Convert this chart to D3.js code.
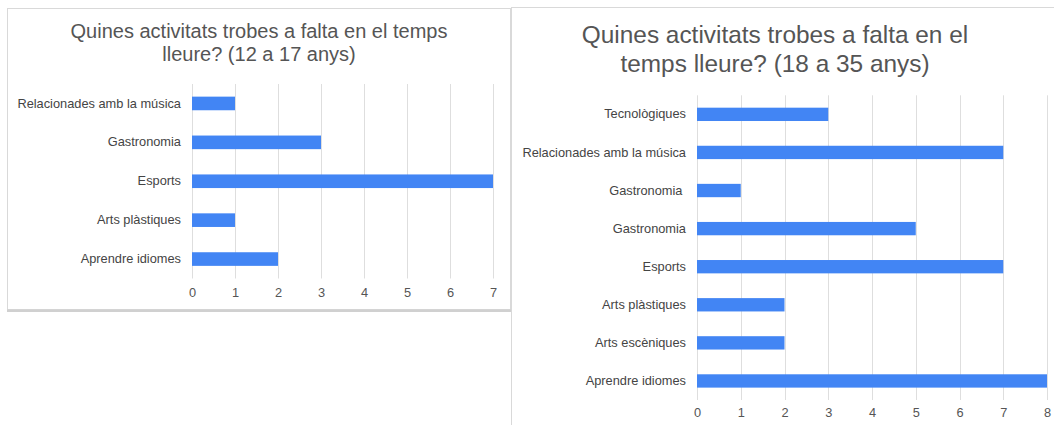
<!DOCTYPE html>
<html>
<head>
<meta charset="utf-8">
<script src="https://cdn.jsdelivr.net/npm/d3@7"></script>
<style>
  body { margin: 0; background: #fff; }
  text { font-family: "Liberation Sans", Arial, sans-serif; }
</style>
</head>
<body>
<div id="chart"></div>
<script>
// data
var cats_young = ["Relacionades amb la música", "Gastronomia", "Esports", "Arts plàstiques", "Aprendre idiomes"];
var vals_young = [1, 3, 7, 1, 2];
var ticks_young = [0, 1, 2, 3, 4, 5, 6, 7];
var title_young = ["Quines activitats trobes a falta en el temps", "lleure? (12 a 17 anys)"];

var cats_adult = ["Tecnològiques", "Relacionades amb la música", "Gastronomia ", "Gastronomia", "Esports", "Arts plàstiques", "Arts escèniques", "Aprendre idiomes"];
var vals_adult = [3, 7, 1, 5, 7, 2, 2, 8];
var ticks_adult = [0, 1, 2, 3, 4, 5, 6, 7, 8];
var title_adult = ["Quines activitats trobes a falta en el", "temps lleure? (18 a 35 anys)"];

var w = 1054, h = 425;

var svg = d3.select("#chart")
  .append("svg")
  .attr("width", w)
  .attr("height", h);

// panel frames
svg.append("rect")
  .attr("x", 511.5).attr("y", 7.5)
  .attr("width", 600).attr("height", 450)
  .style("fill", "#fff")
  .style("stroke", "#d9d9d9");

svg.append("rect")
  .attr("x", 7.5).attr("y", 8.5)
  .attr("width", 503).attr("height", 301)
  .style("fill", "#fff")
  .style("stroke", "#d9d9d9");

svg.append("rect")
  .attr("x", 7).attr("y", 309.5)
  .attr("width", 504).attr("height", 2.5)
  .style("fill", "#d0d0d0");

function drawChart(opt) {
  var g = svg.append("g");

  var xScale = d3.scaleLinear()
    .domain([0, opt.ticks[opt.ticks.length - 1]])
    .range([opt.left, opt.right]);

  var yScale = d3.scaleBand()
    .domain(d3.range(opt.cats.length))
    .range([opt.top, opt.bottom])
    .paddingInner(0.65)
    .paddingOuter(0.325);

  // title
  g.append("text")
    .attr("text-anchor", "middle")
    .style("font-size", opt.titleSize + "px")
    .style("fill", "#555")
    .selectAll("tspan")
    .data(opt.title)
    .enter()
    .append("tspan")
    .attr("x", opt.titleX)
    .attr("y", function(d, i) { return opt.titleY + i * opt.titleGap; })
    .text(function(d) { return d; });

  // gridlines
  g.selectAll(".grid")
    .data(opt.ticks)
    .enter()
    .append("line")
    .attr("x1", function(d) { return Math.round(xScale(d)) + 0.5; })
    .attr("x2", function(d) { return Math.round(xScale(d)) + 0.5; })
    .attr("y1", opt.top)
    .attr("y2", opt.bottom)
    .style("stroke", "#dedede")
    .style("stroke-width", 1);

  // bars
  g.selectAll(".bar")
    .data(opt.vals)
    .enter()
    .append("rect")
    .attr("x", xScale(0))
    .attr("y", function(d, i) { return yScale(i); })
    .attr("width", function(d) { return xScale(d) - xScale(0); })
    .attr("height", yScale.bandwidth())
    .style("fill", "#4285f4");

  // category labels
  var yAxis = d3.axisLeft(yScale)
    .tickSize(0)
    .tickPadding(11)
    .tickFormat(function(d) { return opt.cats[d]; });

  var ya = g.append("g")
    .attr("transform", "translate(" + xScale(0) + ",0)")
    .call(yAxis);
  ya.select(".domain").remove();
  ya.selectAll("text")
    .style("font-size", "12.8px")
    .style("font-family", "'Liberation Sans', Arial, sans-serif")
    .style("white-space", "pre")
    .style("fill", "#444");

  // value ticks
  var xAxis = d3.axisBottom(xScale)
    .tickValues(opt.ticks)
    .tickSize(0)
    .tickPadding(0)
    .tickFormat(d3.format("d"));

  var xa = g.append("g")
    .attr("transform", "translate(0," + opt.tickY + ")")
    .call(xAxis);
  xa.select(".domain").remove();
  xa.selectAll("text")
    .attr("dy", "0.32em")
    .style("font-size", "12.8px")
    .style("font-family", "'Liberation Sans', Arial, sans-serif")
    .style("fill", "#555");
}

drawChart({
  cats: cats_young, vals: vals_young, ticks: ticks_young, title: title_young,
  left: 192, right: 493, top: 84, bottom: 278.5, tickY: 293,
  titleX: 259, titleY: 38, titleGap: 23, titleSize: 20
});

drawChart({
  cats: cats_adult, vals: vals_adult, ticks: ticks_adult, title: title_adult,
  left: 697, right: 1047, top: 95.3, bottom: 400, tickY: 413,
  titleX: 775, titleY: 43, titleGap: 29, titleSize: 24.4
});
</script>
</body>
</html>
